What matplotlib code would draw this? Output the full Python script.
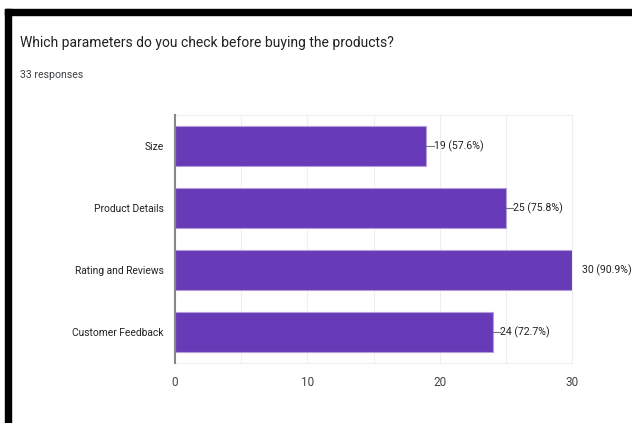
import matplotlib.pyplot as plt
from matplotlib.patches import Rectangle

plt.rcParams["font.family"] = ["Roboto", "DejaVu Sans"]

categories = ["Size", "Product Details", "Rating and Reviews", "Customer Feedback"]
counts = [19, 25, 30, 24]
total_responses = 33
x_ticks = [0, 10, 20, 30]

W, H = 632, 423
fig = plt.figure(figsize=(W / 100, H / 100), dpi=100)
fig.patch.set_facecolor("white")

# black frame: bar along the top and a strip down the left side
for x0, y0, w, h in [(5, 9, 627, 6), (5, 9, 6, 414)]:
    fig.patches.append(Rectangle((x0 / W, 1 - (y0 + h) / H), w / W, h / H,
                                 transform=fig.transFigure, color="black", zorder=0))

fig.text(20 / W, 1 - 43 / H, "Which parameters do you check before buying the products?",
         fontsize=10, color="#202124", va="center", ha="left")
fig.text(20 / W, 1 - 75 / H, f"{total_responses} responses",
         fontsize=7.6, color="#3c4043", va="center", ha="left")

left, right, top, bottom = 175, 572, 115, 363
ax = fig.add_axes([left / W, 1 - bottom / H, (right - left) / W, (bottom - top) / H])

y = list(range(len(categories)))
ax.barh(y, counts, height=0.645, color="#673ab7", edgecolor="#b39ddb",
        linewidth=0.8, zorder=3)
ax.set_ylim(len(categories) - 0.5, -0.5)
ax.set_xlim(0, 30)

for yi, c in zip(y, counts):
    pct = c / total_responses * 100
    label = f"{c} ({pct:.1f}%)"
    if c < 30:
        ax.plot([c, c + 0.55], [yi, yi], color="#757575", lw=0.8, zorder=3, clip_on=False)
        ax.text(c + 0.55, yi, label, va="center", ha="left", fontsize=7.6,
                color="#222222", clip_on=False)
    else:
        ax.text(c + 0.75, yi, label, va="center", ha="left", fontsize=7.6,
                color="#222222", clip_on=False)

ax.set_xticks(x_ticks)
ax.set_xticks(range(0, 31, 5), minor=True)
ax.xaxis.grid(True, which="both", color="#eeeeee", linewidth=0.8, zorder=0)
ax.tick_params(axis="x", which="both", length=0, pad=9, labelsize=8.5, labelcolor="#444444")
ax.set_yticks(y)
ax.set_yticklabels(categories)
ax.tick_params(axis="y", length=0, pad=8, labelsize=7.4, labelcolor="#222222")

for side in ["top", "right", "bottom"]:
    ax.spines[side].set_color("#eeeeee")
    ax.spines[side].set_linewidth(0.8)
ax.spines["left"].set_color("#888888")
ax.spines["left"].set_linewidth(1.5)
ax.spines["left"].set_zorder(4)

fig.savefig("out.png", dpi=100)
